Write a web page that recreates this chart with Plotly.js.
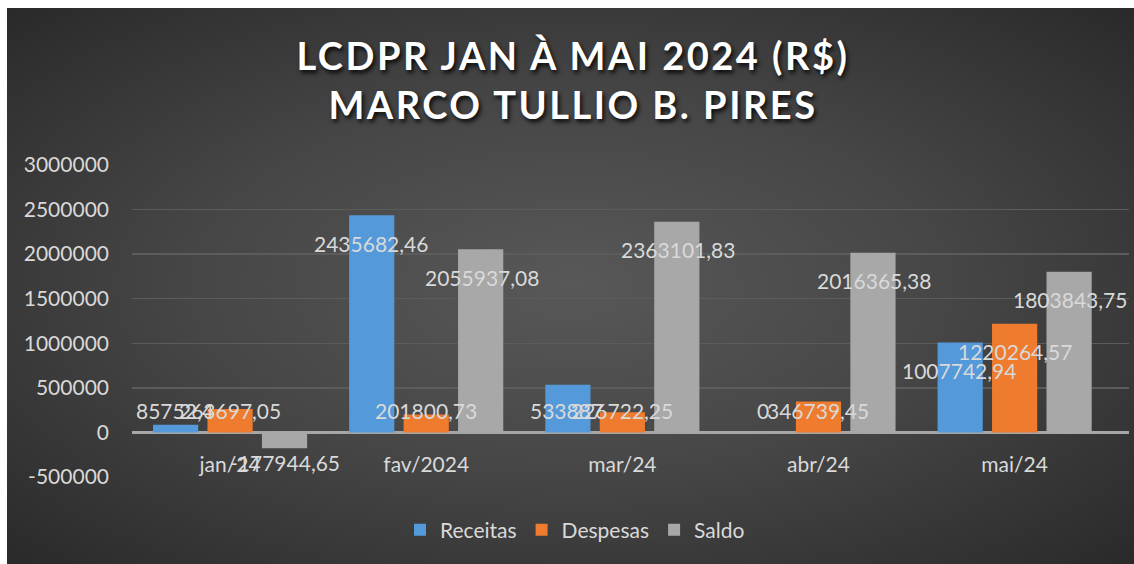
<!DOCTYPE html>
<html>
<head>
<meta charset="utf-8">
<script src="https://cdn.plot.ly/plotly-3.0.1.min.js"></script>
<style>
  html, body { margin: 0; padding: 0; background: #ffffff; width: 1134px; height: 564px; overflow: hidden; }
  #frame {
    position: absolute; left: 7px; top: 8px; width: 1127px; height: 556px;
    background: radial-gradient(ellipse 75% 75% at 50% 50%, #585858 0%, #464646 45%, #2f2f2f 85%, #262626 100%);
  }
  #chart { position: absolute; left: 0; top: 0; width: 1127px; height: 556px; }
  .gtitle { letter-spacing: 2.5px; }
</style>
</head>
<body>
<div id="frame"><div id="chart"></div></div>
<script>
// ---- data ----
const categories = ["jan/24", "fav/2024", "mar/24", "abr/24", "mai/24"];
const receitas = [85752.40, 2435682.46, 533887.00, 0, 1007742.94];
const despesas = [263697.05, 201800.73, 226722.25, 346739.45, 1220264.57];
const saldo = [-177944.65, 2055937.08, 2363101.83, 2016365.38, 1803843.75];
const seriesNames = ["Receitas", "Despesas", "Saldo"];
const seriesColors = ["#5499da", "#ef7b2e", "#a8a8a8"];
const yTicks = [-500000, 0, 500000, 1000000, 1500000, 2000000, 2500000, 3000000];

const allSeries = [receitas, despesas, saldo];
const W = 1127, H = 556;
const margin = {l: 125, r: 5, t: 157, b: 87};
const yRange = [-500000, 3000000];
const plotH = H - margin.t - margin.b;
const plotW = W - margin.l - margin.r;
const pxPerUnit = plotH / (yRange[1] - yRange[0]);
const bargap = 0.167, bargroupgap = 0.17;
const slot = plotW / categories.length * (1 - bargap) / 3;

const fmt = v => String(Math.round(v * 100) / 100).replace('.', ',');

const traces = allSeries.map((vals, i) => ({
  type: 'bar',
  name: seriesNames[i],
  x: categories,
  y: vals,
  marker: {color: seriesColors[i], line: {width: 0}},
  hoverinfo: 'none'
}));

const annotations = [];
allSeries.forEach((vals, si) => {
  vals.forEach((v, ci) => {
    const vpx = v * pxPerUnit;
    let centerPx;
    if (v >= 0) centerPx = Math.max(vpx - 28, 22);
    else centerPx = Math.min(vpx - 14, -30);
    annotations.push({
      x: categories[ci], y: 0, xref: 'x', yref: 'y',
      xshift: (si - 1) * slot,
      yshift: centerPx,
      text: fmt(v), showarrow: false,
      xanchor: 'center', yanchor: 'middle',
      font: {family: 'Lato, sans-serif', size: 21, color: '#d9d9d9'}
    });
  });
});

const layout = {
  width: W, height: H,
  margin: margin,
  paper_bgcolor: 'rgba(0,0,0,0)',
  plot_bgcolor: 'rgba(0,0,0,0)',
  barmode: 'group',
  bargap: bargap,
  bargroupgap: bargroupgap,
  showlegend: true,
  title: {
    text: 'LCDPR JAN À MAI 2024 (R$)<br>MARCO TULLIO B. PIRES',
    x: 566 / W, xanchor: 'center', xref: 'container',
    y: 1 - 62 / H, yanchor: 'middle', yref: 'container',
    font: {family: 'Lato, sans-serif', size: 38, color: '#ffffff', weight: 'bold',
           shadow: '2px 3px 4px rgba(0,0,0,0.85)'}
  },
  xaxis: {
    type: 'category',
    anchor: 'free',
    position: 0.5 / 3.5,
    showline: false, showgrid: false, zeroline: false,
    ticks: '', ticklabelstandoff: 18,
    tickfont: {family: 'Lato, sans-serif', size: 21, color: '#d9d9d9'},
    fixedrange: true
  },
  yaxis: {
    range: yRange,
    tickvals: yTicks,
    ticktext: yTicks.map(String),
    showgrid: true, gridcolor: '#5c5c5c', gridwidth: 1.5,
    zeroline: true, zerolinecolor: '#a6a6a6', zerolinewidth: 3,
    showline: false, ticks: '', ticklabelstandoff: 22,
    tickfont: {family: 'Lato, sans-serif', size: 21, color: '#d9d9d9'},
    fixedrange: true
  },
  legend: {
    orientation: 'h', x: (568 - margin.l) / plotW, xanchor: 'center',
    y: -(522 - (H - margin.b)) / plotH, yanchor: 'middle',
    font: {family: 'Lato, sans-serif', size: 21, color: '#d9d9d9'},
    bgcolor: 'rgba(0,0,0,0)',
    itemwidth: 30, tracegroupgap: 0
  },
  annotations: annotations
};

Plotly.newPlot('chart', traces, layout, {displayModeBar: false, staticPlot: true});
</script>
</body>
</html>
